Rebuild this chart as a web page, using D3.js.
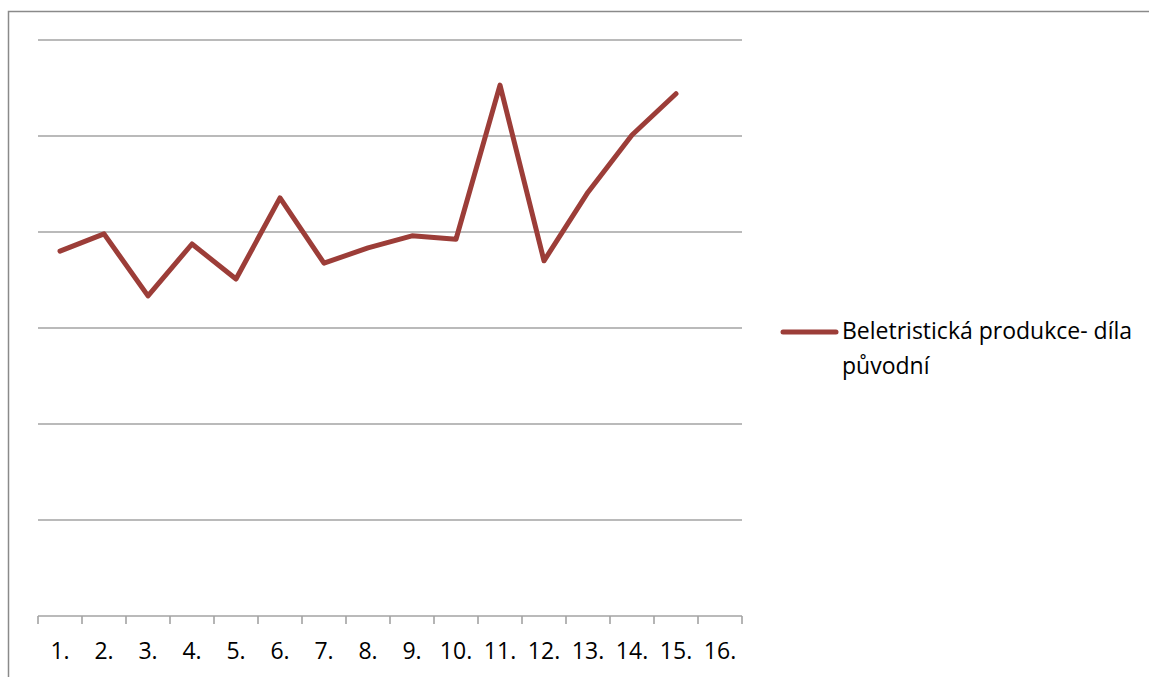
<!DOCTYPE html>
<html>
<head>
<meta charset="utf-8">
<script src="https://cdn.jsdelivr.net/npm/d3@7"></script>
<style>
  html, body { margin: 0; padding: 0; background: #fff; }
  svg { display: block; font-family: "Open Sans", "Noto Sans", sans-serif; }
</style>
</head>
<body>
<svg id="chart" width="1149" height="677"></svg>
<script>
// Categories shown along the x axis
const categories = ["1.", "2.", "3.", "4.", "5.", "6.", "7.", "8.", "9.", "10.", "11.", "12.", "13.", "14.", "15.", "16."];
// Series: original fiction production (no value for the 16th period)
const seriesName = "Beletristická produkce- díla původní";
const legendLines = ["Beletristická produkce- díla", "původní"];
const values = [760, 796, 667, 775, 702, 871, 735, 767, 792, 785, 1106, 740, 883, 1002, 1088];
// Gridline levels
const gridTicks = [0, 200, 400, 600, 800, 1000, 1200];

const svg = d3.select("#chart");
const plot = { left: 38, right: 742, top: 40, bottom: 616 };
const lineColor = "#9c3d38";
const gridColor = "#a3a3a3";

// Outer chart border (only left and top edges fall within the frame)
svg.append("path")
  .attr("d", "M8.5,677 L8.5,11.5 L1149,11.5")
  .attr("fill", "none")
  .attr("stroke", "#8a8a8a")
  .attr("stroke-width", 1.5);

const x = d3.scaleBand().domain(categories).range([plot.left, plot.right]).padding(0);
const y = d3.scaleLinear().domain([0, 1200]).range([plot.bottom, plot.top]);

// Horizontal gridlines
svg.append("g")
  .selectAll("line")
  .data(gridTicks.filter(t => t > 0))
  .join("line")
  .attr("x1", plot.left).attr("x2", plot.right)
  .attr("y1", d => y(d)).attr("y2", d => y(d))
  .attr("stroke", gridColor)
  .attr("stroke-width", 1.6);

// Category axis with tick marks between categories
const axisG = svg.append("g");
axisG.append("line")
  .attr("x1", plot.left).attr("x2", plot.right)
  .attr("y1", y(0)).attr("y2", y(0))
  .attr("stroke", gridColor).attr("stroke-width", 1.6);
const boundaries = categories.map(c => x(c)).concat([x(categories[categories.length - 1]) + x.bandwidth()]);
axisG.selectAll("line.tick")
  .data(boundaries)
  .join("line")
  .attr("class", "tick")
  .attr("x1", d => d).attr("x2", d => d)
  .attr("y1", y(0)).attr("y2", y(0) + 8)
  .attr("stroke", gridColor).attr("stroke-width", 1.6);
axisG.selectAll("text")
  .data(categories)
  .join("text")
  .attr("x", d => x(d) + x.bandwidth() / 2)
  .attr("y", 659)
  .attr("text-anchor", "middle")
  .attr("font-size", 23)
  .attr("fill", "#000")
  .text(d => d);

// Series line
const line = d3.line()
  .x((d, i) => x(categories[i]) + x.bandwidth() / 2)
  .y(d => y(d));
svg.append("path")
  .datum(values)
  .attr("d", line)
  .attr("fill", "none")
  .attr("stroke", lineColor)
  .attr("stroke-width", 5)
  .attr("stroke-linejoin", "round")
  .attr("stroke-linecap", "round");

// Legend
const legend = svg.append("g");
legend.append("line")
  .attr("x1", 783).attr("x2", 836)
  .attr("y1", 332).attr("y2", 332)
  .attr("stroke", lineColor)
  .attr("stroke-width", 5)
  .attr("stroke-linecap", "round");
legend.selectAll("text")
  .data(legendLines)
  .join("text")
  .attr("x", 842)
  .attr("y", (d, i) => 339 + i * 35)
  .attr("font-size", 23)
  .attr("fill", "#000")
  .text(d => d);
</script>
</body>
</html>
